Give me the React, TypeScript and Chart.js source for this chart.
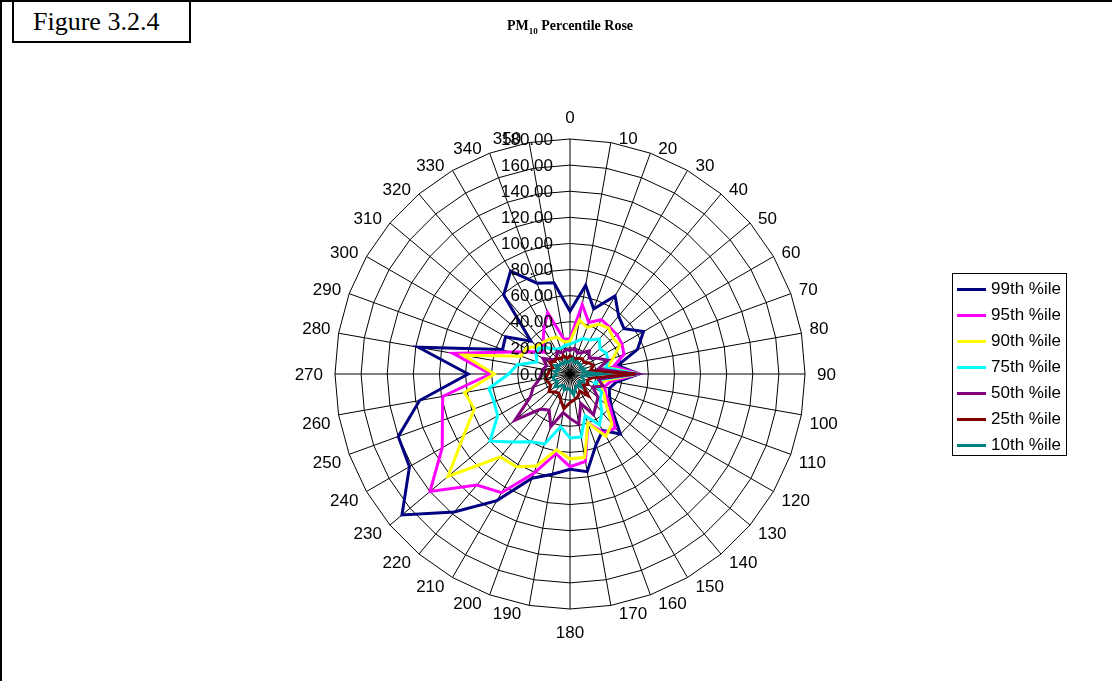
import React, { useEffect, useRef } from "react";
import { Chart, registerables } from "chart.js";

Chart.register(...registerables);

// Wind direction sectors (degrees)
const directions = [
  "0", "10", "20", "30", "40", "50", "60", "70", "80", "90",
  "100", "110", "120", "130", "140", "150", "160", "170", "180",
  "190", "200", "210", "220", "230", "240", "250", "260", "270",
  "280", "290", "300", "310", "320", "330", "340", "350",
];

// PM10 concentration percentiles by direction
const p99 = [48, 69, 53, 69, 58, 54, 65, 55, 37, 53, 36, 32, 35, 42, 60, 50, 58, 76, 73, 78, 85, 112, 138, 168, 142, 140, 117, 78, 118, 55, 57, 39, 79, 91, 74, 71];
const p95 = [27, 54, 42, 48, 47, 47, 46, 44, 34, 52.5, 32, 28, 32, 40, 54, 52, 40, 68, 71, 62, 81, 105, 111, 140, 113, 104, 99, 61, 91, 49, 34, 26, 32, 40, 50, 27];
const p90 = [25, 42, 38, 44, 46, 43, 44, 35, 29, 52, 28, 24, 30, 36, 50, 55, 40, 65, 65, 59, 75, 82, 83, 122, 94, 78, 82, 58, 83, 40, 39, 33, 32, 31, 30, 25];
const p75 = [23, 25, 29, 30, 35, 30, 32, 31, 28, 51.5, 24, 20, 28, 30, 38, 45, 34, 49, 49, 41, 57, 60, 68, 80, 64, 62, 63, 47, 41, 27, 30, 31, 26, 22, 21, 22];
const p50 = [18, 20, 17, 19, 23, 19, 24, 31, 22, 51, 22, 27, 20, 28, 31, 36, 24, 39, 34, 30, 43, 32, 35, 55, 35, 30, 24, 22, 21, 19, 24, 17, 16, 20, 17, 19];
const p25 = [14, 13, 12, 14, 15, 14, 17, 19, 16, 50, 17, 14, 16, 13, 22, 15, 18, 20, 22, 27, 21, 17, 18, 21, 17, 18, 19, 17, 16, 14, 18, 15, 16, 13, 15, 12];
const p10 = [10, 12, 9, 11, 10, 11, 9, 12, 10, 24, 9, 11, 12, 9, 13, 10, 12, 16, 12, 11, 13, 10, 12, 15, 11, 13, 13, 10, 12, 9, 13, 10, 11, 9, 11, 9];

const seriesNames = ["99th %ile", "95th %ile", "90th %ile", "75th %ile", "50th %ile", "25th %ile", "10th %ile"];
const seriesColors = ["#000080", "#FF00FF", "#FFFF00", "#00FFFF", "#800080", "#800000", "#008080"];
const seriesValues = [p99, p95, p90, p75, p50, p25, p10];

const axisMin = 0;
const axisMax = 180;
const axisStep = 20;

const sansFamily = "'Liberation Sans', Arial, Helvetica, sans-serif";
const serifFamily = "'Liberation Serif', 'Times New Roman', Times, serif";

// Ring value labels, written to the left of the north spoke on top of the series
const ringLabelPlugin = {
  id: "ringLabels",
  afterDatasetsDraw(chart: any) {
    const scale = chart.scales.r;
    const ctx = chart.ctx;
    ctx.save();
    ctx.font = `17px ${sansFamily}`;
    ctx.fillStyle = "#000";
    ctx.textAlign = "right";
    ctx.textBaseline = "middle";
    scale.ticks.forEach((t: any) => {
      const d = scale.getDistanceFromCenterForValue(t.value);
      ctx.fillText(Number(t.value).toFixed(2), scale.xCenter - 17, scale.yCenter - d + 1);
    });
    ctx.restore();
  },
};

// Direction labels placed against the outer ring corner of each spoke
const directionLabelPlugin = {
  id: "directionLabels",
  afterDraw(chart: any) {
    const scale = chart.scales.r;
    const ctx = chart.ctx;
    const labels: string[] = chart.data.labels;
    ctx.save();
    ctx.font = `17px ${sansFamily}`;
    ctx.fillStyle = "#000";
    ctx.textBaseline = "alphabetic";
    const asc = ctx.measureText("0").actualBoundingBoxAscent || 12;
    labels.forEach((text, i) => {
      const p = scale.getPointPosition(i, scale.drawingArea);
      const deg = Math.round((i * 360) / labels.length);
      let x = p.x;
      let y = p.y;
      if (deg === 0) {
        ctx.textAlign = "center";
        y = p.y - 16;
      } else if (deg === 180) {
        ctx.textAlign = "center";
        y = p.y + 17 + asc;
      } else {
        const right = deg < 180;
        ctx.textAlign = right ? "left" : "right";
        if (deg === 90 || deg === 270) {
          x = p.x + (right ? 12 : -12);
          y = p.y + asc / 2;
        } else {
          x = p.x + (right ? 8 : -8);
          const upper = deg < 90 || deg > 270;
          y = upper ? p.y + 1 : p.y + 2 + asc;
        }
      }
      ctx.fillText(text, x, y);
    });
    ctx.restore();
  },
};

function RoseChart() {
  const ref = useRef<HTMLCanvasElement | null>(null);

  useEffect(() => {
    if (!ref.current) return;
    const chart = new Chart(ref.current, {
      type: "radar",
      data: {
        labels: directions,
        datasets: seriesValues.map((vals, i) => ({
          label: seriesNames[i],
          data: vals,
          borderColor: seriesColors[i],
          backgroundColor: "transparent",
          borderWidth: 3,
          pointRadius: 0,
          pointHoverRadius: 0,
          fill: false,
          tension: 0,
          order: seriesValues.length - i,
        })),
      },
      options: {
        responsive: false,
        animation: false,
        events: [],
        layout: { padding: { left: 335, top: 139, right: 307, bottom: 72 } },
        plugins: {
          legend: { display: false },
          title: { display: false },
          tooltip: { enabled: false },
        },
        elements: { line: { borderJoinStyle: "miter" } },
        scales: {
          r: {
            min: axisMin,
            max: axisMax,
            startAngle: 0,
            ticks: { stepSize: axisStep, display: false },
            grid: { color: "#000", lineWidth: 1 },
            angleLines: { color: "#000", lineWidth: 1 },
            pointLabels: { display: false },
          },
        },
      },
      plugins: [ringLabelPlugin, directionLabelPlugin],
    });
    return () => chart.destroy();
  }, []);

  return <canvas ref={ref} width={1112} height={681} style={{ position: "absolute", left: 0, top: 0 }} />;
}

export default function App() {
  return (
    <div style={{ position: "absolute", left: 0, top: 0, width: 1112, height: 681, background: "#fff", overflow: "hidden" }}>
      <RoseChart />
      {/* outer frame */}
      <div style={{ position: "absolute", left: 0, top: 0, width: 1112, height: 681, borderTop: "2px solid #000", borderLeft: "2px solid #000", boxSizing: "border-box" }} />
      {/* figure number box */}
      <div
        style={{
          position: "absolute", left: 12, top: 0, width: 179, height: 43, border: "2px solid #000", boxSizing: "border-box",
          background: "#fff", fontFamily: serifFamily, fontSize: 26, display: "flex", alignItems: "center", paddingLeft: 19,
        }}
      >
        Figure 3.2.4
      </div>
      {/* chart title */}
      <div style={{ position: "absolute", left: 370, width: 400, top: 18, textAlign: "center", fontFamily: serifFamily, fontWeight: "bold", fontSize: 14 }}>
        PM<sub style={{ fontSize: 9 }}>10</sub> Percentile Rose
      </div>
      {/* legend */}
      <div
        style={{
          position: "absolute", left: 952, top: 273, width: 115, height: 183, border: "1px solid #000", boxSizing: "border-box",
          fontFamily: sansFamily, fontSize: 17, paddingTop: 2,
        }}
      >
        {seriesNames.map((name, i) => (
          <div key={name} style={{ display: "flex", alignItems: "center", height: 26 }}>
            <div style={{ width: 29, height: 3, background: seriesColors[i], marginLeft: 4, marginRight: 5 }} />
            <span>{name}</span>
          </div>
        ))}
      </div>
    </div>
  );
}
